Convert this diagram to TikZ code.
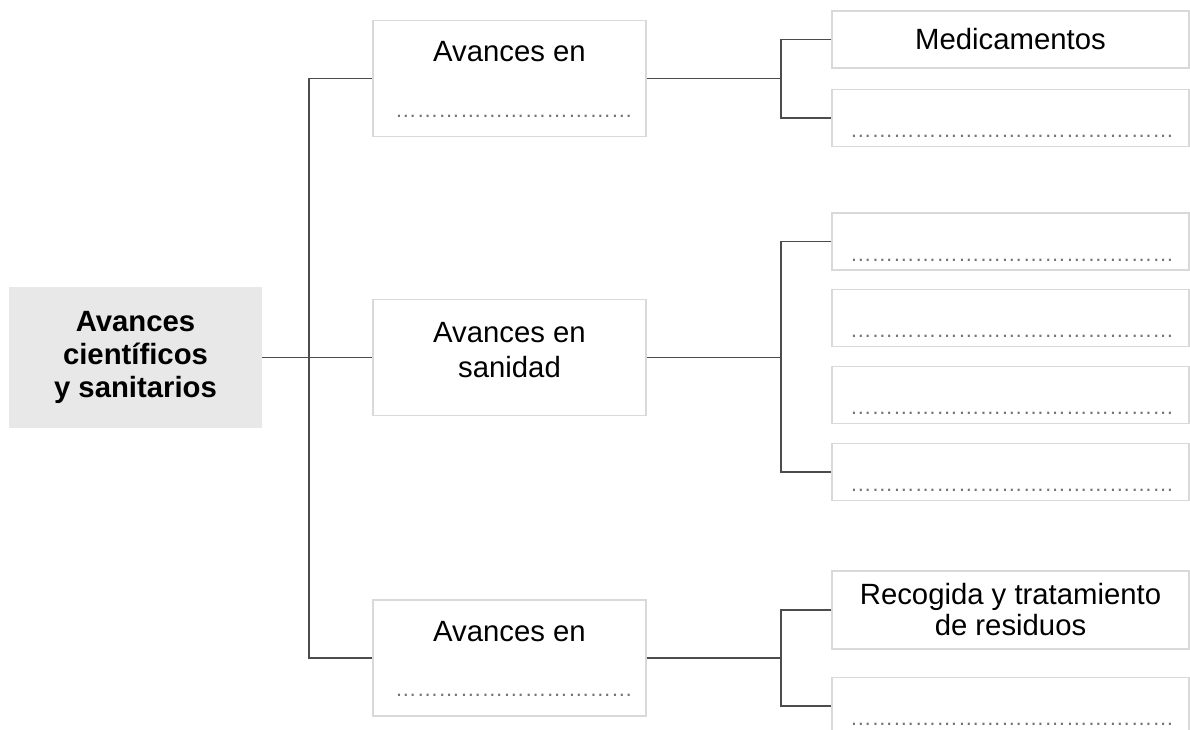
\documentclass[tikz,border=0pt]{standalone}
\usepackage{fontspec}
\setmainfont{Liberation Sans}
\usepackage{tikz}
\usetikzlibrary{calc}
\newcommand{\bigtext}{\fontsize{29.3}{33}\selectfont}
\newcommand{\dotsize}{\fontsize{21.6}{24}\selectfont}
\newcommand{\dotrun}[1]{\foreach \k in {1,...,#1}{…}}
\tikzset{edge/.style={line width=1.3pt, black!70}}
\tikzset{mainbox/.style={fill=black!9, minimum width=253pt, minimum height=141pt, align=center, font=\bfseries\bigtext}}
\tikzset{topic/.style={draw=black!15, line width=1.3pt, fill=white, minimum width=273pt, minimum height=116pt}}
\tikzset{leaf/.style={draw=black!15, line width=1.3pt, fill=white, minimum width=357pt, minimum height=57pt, align=center, font=\bigtext}}
\tikzset{txt/.style={inner sep=0pt, align=center, font=\bigtext}}
\tikzset{dotrow/.style={inner sep=0pt, anchor=base, text=black!55, font=\dotsize}}

\begin{document}
\begin{tikzpicture}[x=1pt, y=-1pt]
\useasboundingbox (0,0) rectangle (1190,729);
%main box
\node (main) at (135.5,357.5)[mainbox]{Avances\\científicos\\y sanitarios};
%middle column
\node (b1) at (509.5,78.5)[topic]{};
\node (b1t) at (509.5,61.7)[txt, anchor=base]{Avances en};
\node (b1d) at ($(b1.south)+(4.5,-20)$)[dotrow]{\dotrun{11}};
\node (b2) at (509.5,357.5)[topic]{};
\node (b2t) at (509.5,350)[txt, font=\fontsize{29.3}{35}\selectfont]{Avances en\\sanidad};
\node (b3) at (509.5,658)[topic]{};
\node (b3t) at (509.5,641.7)[txt, anchor=base]{Avances en};
\node (b3d) at ($(b3.south)+(4.5,-20)$)[dotrow]{\dotrun{11}};
%right column, top
\node (r1) at (1010.5,39.5)[leaf]{Medicamentos};
\node (r2) at (1010.5,118)[leaf]{};
\node (r2d) at ($(r2.south)+(1.5,-9.5)$)[dotrow]{\dotrun{15}};
%right column, middle
\node (r3) at (1010.5,241.5)[leaf]{};
\node (r3d) at ($(r3.south)+(1.5,-9.5)$)[dotrow]{\dotrun{15}};
\node (r4) at (1010.5,318)[leaf]{};
\node (r4d) at ($(r4.south)+(1.5,-9.5)$)[dotrow]{\dotrun{15}};
\node (r5) at (1010.5,395)[leaf]{};
\node (r5d) at ($(r5.south)+(1.5,-9.5)$)[dotrow]{\dotrun{15}};
\node (r6) at (1010.5,472)[leaf]{};
\node (r6d) at ($(r6.south)+(1.5,-9.5)$)[dotrow]{\dotrun{15}};
%right column, bottom
\node (r7) at (1010.5,610)[leaf, minimum height=78pt, font=\fontsize{29.3}{31}\selectfont]{Recogida y tratamiento\\de residuos};
\node (r8) at (1010.5,706)[leaf]{};
\node (r8d) at ($(r8.south)+(1.5,-9.5)$)[dotrow]{\dotrun{15}};

%junctions
\coordinate (lj) at (309,357.5);
\coordinate (rj1) at (781,78.5);
\coordinate (rj2) at (781,357.5);
\coordinate (rj3) at (781,658);

\draw[edge] (main.east)--(b2.west);
\draw[edge] (b1.west)-|(lj)|-(b3.west);
\draw[edge] (b1.east)--(rj1);
\draw[edge] (r1.west)-|(rj1)|-(r2.west);
\draw[edge] (b2.east)--(rj2);
\draw[edge] (r3.west)-|(rj2)|-(r6.west);
\draw[edge] (b3.east)--(rj3);
\draw[edge] (r7.west)-|(rj3)|-(r8.west);
\end{tikzpicture}
\end{document}
